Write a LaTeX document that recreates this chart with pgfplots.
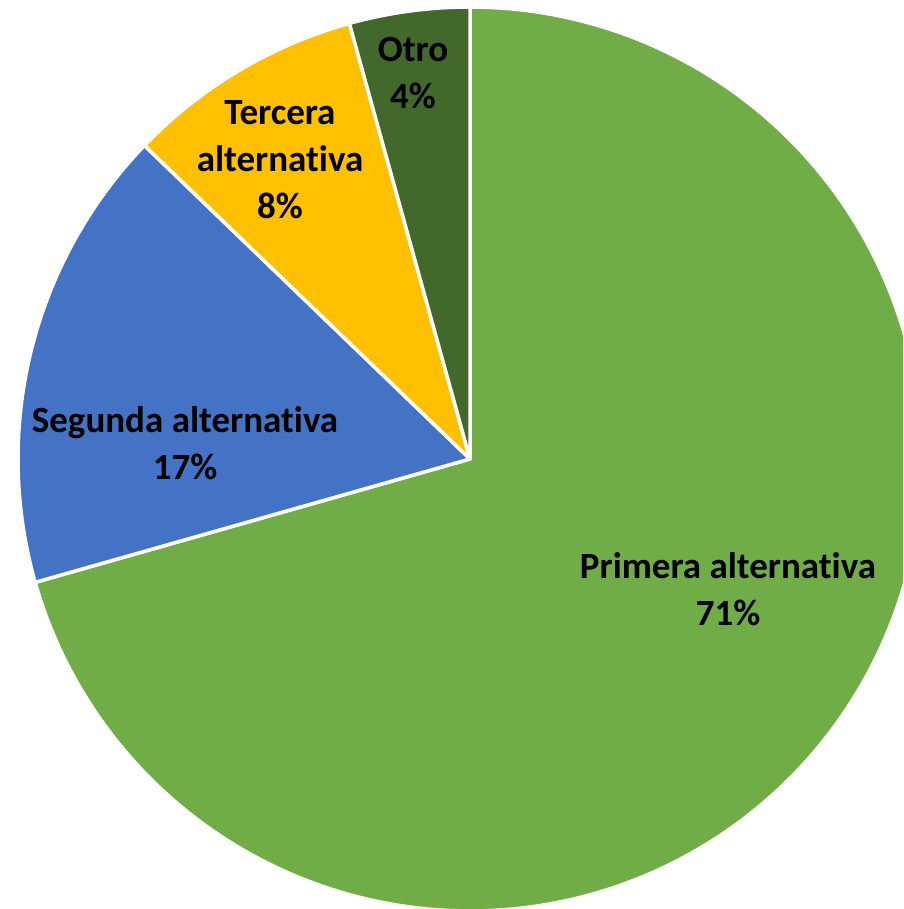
\documentclass[border=0pt]{standalone}
\usepackage{pgfplots}
\pgfplotsset{compat=1.18}
\usepackage{fontspec}
\setmainfont[Ligatures=NoCommon]{Carlito}
\definecolor{cPrim}{HTML}{70AD47}
\definecolor{cSeg}{HTML}{4472C4}
\definecolor{cTer}{HTML}{FFC000}
\definecolor{cOtro}{HTML}{43682B}
% shares (percent), counter-clockwise from the top
\def\vOtro{4.3}
\def\vTer{8.5}
\def\vSeg{16.6}
\def\vPrim{70.6}
\pgfmathsetmacro\aA{90}
\pgfmathsetmacro\aB{\aA+3.6*\vOtro}
\pgfmathsetmacro\aC{\aB+3.6*\vTer}
\pgfmathsetmacro\aD{\aC+3.6*\vSeg}
\pgfmathsetmacro\aE{\aD+3.6*\vPrim}
\def\cx{470}
\def\cy{450}
\def\R{452}
\begin{document}
\begin{tikzpicture}
\path[use as bounding box, fill=white] (0,0) rectangle (903pt,909pt);
\begin{axis}[at={(0,0)}, anchor=south west,
  width=903pt, height=909pt, scale only axis,
  xmin=0, xmax=903, ymin=0, ymax=909, hide axis, clip=true]
\addplot[fill=cPrim, draw=white, line width=3.5pt, line join=round, domain=\aD:\aE, samples=200, variable=\t]
  ({\cx+\R*cos(t)},{\cy+\R*sin(t)}) -- (axis cs:\cx,\cy) -- cycle;
\addplot[fill=cSeg, draw=white, line width=3.5pt, line join=round, domain=\aC:\aD, samples=80, variable=\t]
  ({\cx+\R*cos(t)},{\cy+\R*sin(t)}) -- (axis cs:\cx,\cy) -- cycle;
\addplot[fill=cTer, draw=white, line width=3.5pt, line join=round, domain=\aB:\aC, samples=50, variable=\t]
  ({\cx+\R*cos(t)},{\cy+\R*sin(t)}) -- (axis cs:\cx,\cy) -- cycle;
\addplot[fill=cOtro, draw=white, line width=3.5pt, line join=round, domain=\aA:\aB, samples=30, variable=\t]
  ({\cx+\R*cos(t)},{\cy+\R*sin(t)}) -- (axis cs:\cx,\cy) -- cycle;
\begin{scope}[every node/.style={font=\fontsize{37}{47}\selectfont\bfseries, align=center, inner sep=0pt}]
\node at (axis cs:728,320) {Primera alternativa\\71\%};
\node at (axis cs:185,466) {Segunda alternativa\\17\%};
\node at (axis cs:280,749) {Tercera\\alternativa\\8\%};
\node at (axis cs:413,836) {Otro\\4\%};
\end{scope}
\end{axis}
\end{tikzpicture}
\end{document}
